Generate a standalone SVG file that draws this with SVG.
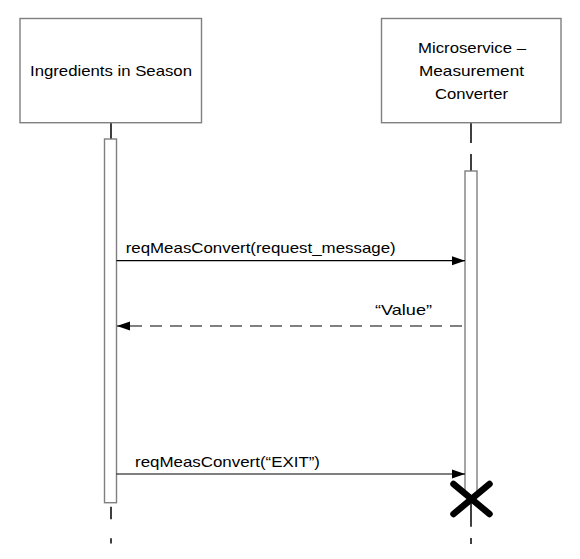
<svg xmlns="http://www.w3.org/2000/svg" width="580" height="559" viewBox="0 0 580 559">
<style>
.box{fill:#fff;stroke:#7f7f7f;stroke-width:1.4}
.act{fill:#fff;stroke:#7f7f7f;stroke-width:1.4}
.life{stroke:#000;stroke-width:1.5;fill:none}
.msg{stroke:#000;stroke-width:1.2;fill:none}
.dash{stroke-dasharray:12 8}
.t{font-family:"Liberation Sans",Arial,sans-serif;font-size:14.5px;fill:#000}
.c{text-anchor:middle}
</style>
<defs>
<marker id="ah" markerWidth="14" markerHeight="10" refX="13" refY="5" orient="auto" markerUnits="userSpaceOnUse">
<path d="M0,0.5 L13,5 L0,9.5 Z" fill="#000"/>
</marker>
</defs>
<rect width="580" height="559" fill="#fff"/>
<g id="lifelines">
<path class="life" d="M111,122.7 V139 M111,506.7 V519.3 M111,538.3 V543.5"/>
<path class="life" d="M471,122.7 V143 M471,154 V171 M471,496 V526.7 M471,538 V544"/>
</g>
<g id="node-ingredients">
<rect class="box" x="20" y="18.5" width="181.5" height="104.2"/>
<text class="t c" x="111" y="76" textLength="162" lengthAdjust="spacingAndGlyphs">Ingredients in Season</text>
<rect class="act" x="104.5" y="139" width="12" height="363.7"/>
</g>
<g id="node-microservice">
<rect class="box" x="381.5" y="18.5" width="179.5" height="104.2"/>
<text class="t c" x="472" y="53" textLength="108" lengthAdjust="spacingAndGlyphs">Microservice –</text>
<text class="t c" x="471.5" y="76" textLength="105" lengthAdjust="spacingAndGlyphs">Measurement</text>
<text class="t c" x="471.5" y="98.5" textLength="73" lengthAdjust="spacingAndGlyphs">Converter</text>
<rect class="act" x="465" y="171" width="12" height="325"/>
</g>
<g id="connectors">
<line class="msg" x1="116.5" y1="260.7" x2="465" y2="260.7" marker-end="url(#ah)"/>
<text class="t" x="125.7" y="252.7" textLength="270" lengthAdjust="spacingAndGlyphs">reqMeasConvert(request_message)</text>
<line class="msg dash" x1="462" y1="326" x2="117" y2="326" marker-end="url(#ah)"/>
<text class="t" x="375" y="315" textLength="57" lengthAdjust="spacingAndGlyphs">“Value”</text>
<line class="msg" x1="116.5" y1="474" x2="465" y2="474" marker-end="url(#ah)"/>
<text class="t" x="135" y="466.7" textLength="185" lengthAdjust="spacingAndGlyphs">reqMeasConvert(“EXIT”)</text>
</g>
<g id="destroy" stroke="#000" stroke-width="6.5" stroke-linecap="round">
<line x1="453.5" y1="484" x2="489.5" y2="514"/>
<line x1="489.5" y1="484" x2="453.5" y2="514"/>
</g>
</svg>
